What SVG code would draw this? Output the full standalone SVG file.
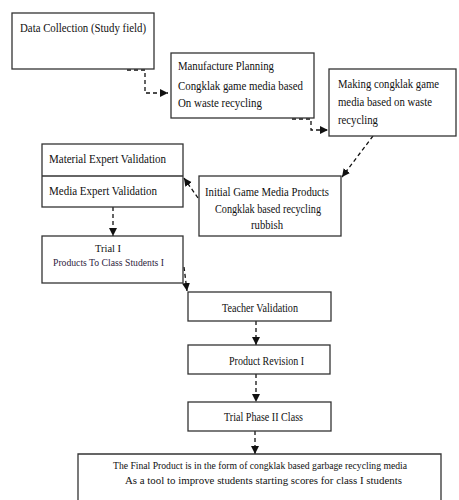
<svg xmlns="http://www.w3.org/2000/svg" width="459" height="500" viewBox="0 0 459 500">
<defs>
<marker id="ah" markerUnits="userSpaceOnUse" markerWidth="9" markerHeight="9" refX="8" refY="4" orient="auto">
<path d="M0,0 L8,4 L0,8 z" fill="#111"/>
</marker>
<style>
.box{fill:#fff;stroke:#333;stroke-width:1.3}
.t{font-family:"Liberation Serif","Times New Roman",serif;font-size:13.5px;fill:#111}
.m{font-size:12.5px}
.s{font-size:11px}
.f{font-size:11px;text-anchor:middle}
.ln{fill:none;stroke:#111;stroke-width:1.3;stroke-dasharray:4 3}
</style>
</defs>
<rect width="459" height="500" fill="#fff"/>
<g id="connectors">
<path class="ln" d="M127,70 H145 V93 H168" marker-end="url(#ah)"/>
<path class="ln" d="M292,119 H311 V130 H328" marker-end="url(#ah)"/>
<path class="ln" d="M373,136 L342,177" marker-end="url(#ah)"/>
<path class="ln" d="M198,198 L184,178" marker-end="url(#ah)"/>
<path class="ln" d="M113,207 V236" marker-end="url(#ah)"/>
<path class="ln" d="M184,267 L187,291" marker-end="url(#ah)"/>
<path class="ln" d="M256,321 V345" marker-end="url(#ah)"/>
<path class="ln" d="M256,374 V402" marker-end="url(#ah)"/>
<path class="ln" d="M255,431 V454" marker-end="url(#ah)"/>
</g>
<g id="data-collection">
<rect class="box" x="12" y="13" width="142" height="56"/>
<text class="t" x="20" y="32" textLength="126" lengthAdjust="spacingAndGlyphs">Data Collection (Study field)</text>
</g>
<g id="manufacture-planning">
<rect class="box" x="171" y="53" width="143" height="65"/>
<text class="t" x="178" y="70" textLength="96" lengthAdjust="spacingAndGlyphs">Manufacture Planning</text>
<text class="t" x="178" y="90" textLength="125" lengthAdjust="spacingAndGlyphs">Congklak game media based</text>
<text class="t" x="178" y="107" textLength="84" lengthAdjust="spacingAndGlyphs">On waste recycling</text>
</g>
<g id="making">
<rect class="box" x="329" y="69" width="127" height="67"/>
<text class="t m" x="338" y="88" textLength="101" lengthAdjust="spacingAndGlyphs">Making congklak game</text>
<text class="t m" x="338" y="106" textLength="94" lengthAdjust="spacingAndGlyphs">media based on waste</text>
<text class="t m" x="338" y="124" textLength="40" lengthAdjust="spacingAndGlyphs">recycling</text>
</g>
<g id="initial-products">
<rect class="box" x="199" y="176" width="142" height="60"/>
<text class="t" x="205" y="196" textLength="124" lengthAdjust="spacingAndGlyphs">Initial Game Media Products</text>
<text class="t" x="215" y="213" textLength="106" lengthAdjust="spacingAndGlyphs">Congklak  based  recycling</text>
<text class="t" x="251" y="229" textLength="32" lengthAdjust="spacingAndGlyphs">rubbish</text>
</g>
<g id="expert-validation">
<rect class="box" x="42" y="144" width="141" height="63"/>
<line x1="42" y1="176" x2="183" y2="176" stroke="#333" stroke-width="1.3"/>
<text class="t" x="49" y="163" textLength="117" lengthAdjust="spacingAndGlyphs">Material Expert Validation</text>
<text class="t" x="49" y="195" textLength="108" lengthAdjust="spacingAndGlyphs">Media Expert Validation</text>
</g>
<g id="trial-1">
<rect class="box" x="42" y="236" width="141" height="47"/>
<text class="t s" x="95" y="252" textLength="26" lengthAdjust="spacingAndGlyphs">Trial  I</text>
<text class="t s" x="53" y="266" textLength="111" lengthAdjust="spacingAndGlyphs" style="fill:#2e2440">Products  To  Class  Students  I</text>
</g>
<g id="teacher-validation">
<rect class="box" x="188" y="292" width="143" height="29"/>
<text class="t m" x="222" y="312" textLength="76" lengthAdjust="spacingAndGlyphs">Teacher Validation</text>
</g>
<g id="product-revision">
<rect class="box" x="188" y="345" width="142" height="29"/>
<text class="t m" x="229" y="365" textLength="75" lengthAdjust="spacingAndGlyphs">Product Revision I</text>
</g>
<g id="trial-phase-2">
<rect class="box" x="188" y="402" width="143" height="29"/>
<text class="t m" x="224" y="421" textLength="79" lengthAdjust="spacingAndGlyphs">Trial Phase II Class</text>
</g>
<g id="final-product">
<path d="M78,500 V454 H441 V500" fill="#fff" stroke="#333" stroke-width="1.3"/>
<text class="t f" x="260" y="469" textLength="294" lengthAdjust="spacingAndGlyphs">The Final Product is in the form of congklak based garbage recycling media</text>
<text class="t f" x="263.5" y="484" textLength="277" lengthAdjust="spacingAndGlyphs">As a tool to improve students starting scores for class I students</text>
</g>
</svg>
